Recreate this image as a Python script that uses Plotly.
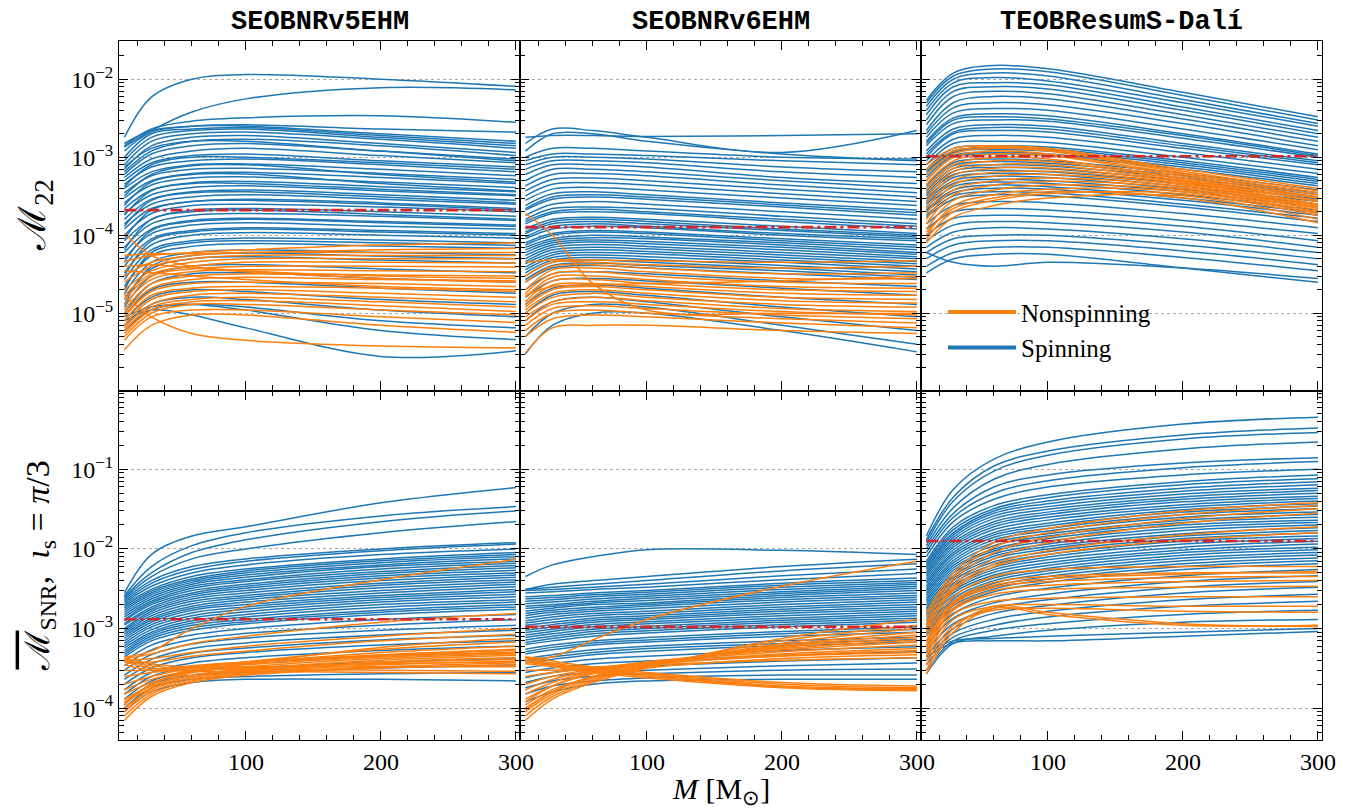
import plotly.graph_objects as go
from plotly.subplots import make_subplots

# Total mass grid (solar masses) at which each mismatch curve is sampled
MASS = [10, 30, 60, 100, 200, 300]

MODELS = ["SEOBNRv5EHM", "SEOBNRv6EHM", "TEOBResumS-Dalí"]

# ---- (2,2)-mode mismatch, spinning configurations ----
V5_M22_SPIN = [
    [1.8e-3, 5.9e-3, 1.0e-2, 1.15e-2, 1.0e-2, 8.1e-3],
    [1.35e-3, 2.2e-3, 3.8e-3, 5.6e-3, 7.8e-3, 7.3e-3],
    [1.4e-3, 2.3e-3, 2.9e-3, 3.2e-3, 3.4e-3, 2.8e-3],
    [1.5e-3, 2.2e-3, 2.5e-3, 2.6e-3, 2.3e-3, 2.1e-3],
    [1.2e-3, 2.1e-3, 2.5e-3, 2.5e-3, 2.0e-3, 1.6e-3],
    [1.0e-3, 2.0e-3, 2.3e-3, 2.4e-3, 1.9e-3, 1.5e-3],
    [9e-4, 1.8e-3, 2.2e-3, 2.3e-3, 1.8e-3, 1.4e-3],
    [8e-4, 1.6e-3, 2.0e-3, 2.1e-3, 1.7e-3, 1.3e-3],
    [7e-4, 1.4e-3, 1.8e-3, 1.9e-3, 1.5e-3, 1.15e-3],
    [7.5e-4, 1.3e-3, 1.6e-3, 1.6e-3, 1.2e-3, 9e-4],
    [6.5e-4, 1.2e-3, 1.6e-3, 1.7e-3, 1.4e-3, 1.05e-3],
    [6e-4, 1.1e-3, 1.4e-3, 1.5e-3, 1.2e-3, 9.5e-4],
    [5.5e-4, 9.5e-4, 1.2e-3, 1.3e-3, 1.05e-3, 8.5e-4],
    [5e-4, 8.5e-4, 1.05e-3, 1.1e-3, 9e-4, 7.5e-4],
    [4.2e-4, 8e-4, 1e-3, 1e-3, 8.5e-4, 7e-4],
    [4.5e-4, 7.5e-4, 9e-4, 9.5e-4, 8e-4, 6.5e-4],
    [4e-4, 6.5e-4, 8e-4, 8.2e-4, 7e-4, 5.8e-4],
    [3.2e-4, 6e-4, 7.8e-4, 8e-4, 6e-4, 4.8e-4],
    [3.5e-4, 5.8e-4, 7e-4, 7.2e-4, 6.2e-4, 5.2e-4],
    [3e-4, 5e-4, 6.2e-4, 6.4e-4, 5.5e-4, 4.6e-4],
    [2.4e-4, 4.8e-4, 6e-4, 6.1e-4, 4.6e-4, 3.7e-4],
    [2.6e-4, 4.4e-4, 5.4e-4, 5.6e-4, 4.8e-4, 4.1e-4],
    [2.2e-4, 3.8e-4, 4.7e-4, 4.9e-4, 4.2e-4, 3.6e-4],
    [1.8e-4, 3.7e-4, 4.6e-4, 4.6e-4, 3.9e-4, 3.3e-4],
    [1.9e-4, 3.3e-4, 4.1e-4, 4.3e-4, 3.7e-4, 3.2e-4],
    [1.6e-4, 2.9e-4, 3.6e-4, 3.8e-4, 3.3e-4, 2.8e-4],
    [1.3e-4, 2.8e-4, 3.5e-4, 3.6e-4, 3.1e-4, 2.6e-4],
    [1.4e-4, 2.5e-4, 3.1e-4, 3.3e-4, 2.9e-4, 2.5e-4],
    [1.2e-4, 2.2e-4, 2.7e-4, 2.9e-4, 2.6e-4, 2.2e-4],
    [9e-5, 2.1e-4, 2.7e-4, 2.8e-4, 2.5e-4, 2.1e-4],
    [1e-4, 1.9e-4, 2.4e-4, 2.5e-4, 2.3e-4, 2e-4],
    [8.5e-5, 1.6e-4, 2.1e-4, 2.2e-4, 2e-4, 1.75e-4],
    [6.5e-5, 1.6e-4, 2e-4, 2.1e-4, 1.85e-4, 1.6e-4],
    [7e-5, 1.4e-4, 1.8e-4, 1.9e-4, 1.75e-4, 1.55e-4],
    [6e-5, 1.2e-4, 1.55e-4, 1.65e-4, 1.5e-4, 1.35e-4],
    [4.5e-5, 1.15e-4, 1.5e-4, 1.6e-4, 1.45e-4, 1.3e-4],
    [5e-5, 1.05e-4, 1.35e-4, 1.45e-4, 1.3e-4, 1.2e-4],
    [4e-5, 9e-5, 1.15e-4, 1.25e-4, 1.15e-4, 1.05e-4],
    [3e-5, 8.5e-5, 1.1e-4, 1.2e-4, 1.1e-4, 1e-4],
    [3.3e-5, 7.5e-5, 1e-4, 1.08e-4, 1e-4, 9.2e-5],
    [2.7e-5, 6.5e-5, 8.5e-5, 9.2e-5, 8.7e-5, 8e-5],
    [2e-5, 6e-5, 8e-5, 8.5e-5, 8e-5, 7.4e-5],
    [2.2e-5, 5.5e-5, 7.2e-5, 7.8e-5, 7.3e-5, 6.8e-5],
    [1.8e-5, 4.5e-5, 6e-5, 6.5e-5, 6e-5, 5.6e-5],
    [1.3e-5, 4e-5, 5.5e-5, 5.9e-5, 5.4e-5, 5e-5],
    [1.5e-5, 3.7e-5, 5e-5, 5.3e-5, 4.8e-5, 4.4e-5],
    [1.2e-5, 3e-5, 4e-5, 4.2e-5, 3.7e-5, 3.3e-5],
    [1e-5, 2.4e-5, 3.2e-5, 3.3e-5, 2.8e-5, 2.5e-5],
    [9e-6, 2e-5, 2.5e-5, 2.5e-5, 2.1e-5, 1.8e-5],
    [8e-6, 1.6e-5, 2e-5, 1.9e-5, 1.5e-5, 1.3e-5],
    [7e-6, 1.3e-5, 1.6e-5, 1.5e-5, 1.1e-5, 9e-6],
    [6e-6, 1.1e-5, 1.3e-5, 1.2e-5, 8e-6, 6.5e-6],
    [9e-6, 1.2e-5, 1.3e-5, 1.1e-5, 6e-6, 4.6e-6],
    [8e-6, 1.1e-5, 9.5e-6, 6.5e-6, 2.8e-6, 3.3e-6],
]
V6_M22_SPIN = [
    [1.8e-3, 1.9e-3, 1.9e-3, 1.85e-3, 1.9e-3, 2.0e-3],
    [1.5e-3, 2.3e-3, 2.2e-3, 1.8e-3, 1.15e-3, 2.2e-3],
    [1.2e-3, 2.0e-3, 2.0e-3, 1.6e-3, 1.1e-3, 9e-4],
    [1e-3, 1.3e-3, 1.3e-3, 1.2e-3, 1e-3, 9.5e-4],
    [9e-4, 1.1e-3, 1.1e-3, 1.05e-3, 9e-4, 8e-4],
    [8e-4, 1e-3, 1e-3, 9.5e-4, 7.5e-4, 6.5e-4],
    [7e-4, 9e-4, 9e-4, 8.5e-4, 6.5e-4, 5.5e-4],
    [6e-4, 8e-4, 8e-4, 7.5e-4, 5.5e-4, 4.6e-4],
    [5e-4, 7e-4, 7e-4, 6.5e-4, 5e-4, 4e-4],
    [4.3e-4, 6e-4, 6.2e-4, 5.8e-4, 4.4e-4, 3.5e-4],
    [3.7e-4, 5.2e-4, 5.4e-4, 5e-4, 3.9e-4, 3.1e-4],
    [3.2e-4, 4.5e-4, 4.7e-4, 4.4e-4, 3.4e-4, 2.7e-4],
    [2.8e-4, 3.9e-4, 4.1e-4, 3.8e-4, 3e-4, 2.4e-4],
    [2.4e-4, 3.4e-4, 3.6e-4, 3.3e-4, 2.6e-4, 2.1e-4],
    [2.2e-4, 3.1e-4, 3.3e-4, 3.1e-4, 2.45e-4, 1.95e-4],
    [2.1e-4, 2.9e-4, 3.1e-4, 2.9e-4, 2.3e-4, 1.8e-4],
    [1.8e-4, 2.5e-4, 2.7e-4, 2.5e-4, 2e-4, 1.6e-4],
    [1.6e-4, 2.2e-4, 2.3e-4, 2.2e-4, 1.75e-4, 1.4e-4],
    [1.5e-4, 2e-4, 2.15e-4, 2e-4, 1.6e-4, 1.3e-4],
    [1.4e-4, 1.9e-4, 2e-4, 1.9e-4, 1.5e-4, 1.2e-4],
    [1.2e-4, 1.6e-4, 1.7e-4, 1.6e-4, 1.3e-4, 1.05e-4],
    [1.1e-4, 1.5e-4, 1.6e-4, 1.5e-4, 1.2e-4, 1e-4],
    [1.05e-4, 1.4e-4, 1.5e-4, 1.4e-4, 1.15e-4, 9.5e-5],
    [9.5e-5, 1.3e-4, 1.4e-4, 1.3e-4, 1.05e-4, 9e-5],
    [9e-5, 1.2e-4, 1.3e-4, 1.25e-4, 1e-4, 8.5e-5],
    [8e-5, 1.05e-4, 1.15e-4, 1.1e-4, 9e-5, 7.5e-5],
    [7.5e-5, 1e-4, 1.1e-4, 1.05e-4, 8.5e-5, 7e-5],
    [7e-5, 9e-5, 1e-4, 9.5e-5, 8e-5, 6.5e-5],
    [6.5e-5, 8.5e-5, 9.3e-5, 9e-5, 7.5e-5, 6e-5],
    [6e-5, 8e-5, 8.7e-5, 8.3e-5, 7e-5, 5.7e-5],
    [5.5e-5, 7.5e-5, 8.2e-5, 7.8e-5, 6.5e-5, 5.3e-5],
    [5e-5, 7e-5, 7.6e-5, 7.2e-5, 6e-5, 5e-5],
    [4.6e-5, 6.5e-5, 7e-5, 6.7e-5, 5.6e-5, 4.6e-5],
    [4.3e-5, 6e-5, 6.5e-5, 6.2e-5, 5.2e-5, 4.3e-5],
    [3.9e-5, 5.6e-5, 6e-5, 5.8e-5, 4.8e-5, 4e-5],
    [3.6e-5, 5.2e-5, 5.6e-5, 5.3e-5, 4.5e-5, 3.7e-5],
    [3.3e-5, 4.8e-5, 5.2e-5, 4.9e-5, 4.1e-5, 3.4e-5],
    [3e-5, 4.5e-5, 4.8e-5, 4.5e-5, 3.8e-5, 3.1e-5],
    [2.7e-5, 4.1e-5, 4.4e-5, 4.1e-5, 3.5e-5, 2.9e-5],
    [2.5e-5, 3.8e-5, 4.1e-5, 3.8e-5, 3.2e-5, 2.7e-5],
    [2e-5, 3.2e-5, 3.4e-5, 3.2e-5, 2.6e-5, 2.2e-5],
    [1.6e-5, 2.6e-5, 2.8e-5, 2.6e-5, 2.1e-5, 1.7e-5],
    [1.3e-5, 2.1e-5, 2.3e-5, 2.1e-5, 1.6e-5, 1.3e-5],
    [1e-5, 1.7e-5, 1.9e-5, 1.7e-5, 1.2e-5, 9e-6],
    [8e-6, 1.4e-5, 1.6e-5, 1.4e-5, 9e-6, 6e-6],
    [5e-6, 1e-5, 1.3e-5, 1.2e-5, 7e-6, 4e-6],
    [3e-6, 7e-6, 1e-5, 1e-5, 6e-6, 3.2e-6],
]
TEOB_M22_SPIN = [
    [5.4e-3, 1.2e-2, 1.5e-2, 1.36e-2, 6.8e-3, 3.3e-3],
    [5e-3, 1.1e-2, 1.35e-2, 1.25e-2, 6.2e-3, 3e-3],
    [4.5e-3, 1e-2, 1.2e-2, 1.1e-2, 5.5e-3, 2.7e-3],
    [4e-3, 9e-3, 1.05e-2, 9.5e-3, 5e-3, 2.5e-3],
    [3.5e-3, 8e-3, 9e-3, 8.5e-3, 4.4e-3, 2.2e-3],
    [3e-3, 7e-3, 8e-3, 7.5e-3, 4e-3, 2e-3],
    [2.6e-3, 6e-3, 7e-3, 6.5e-3, 3.5e-3, 1.8e-3],
    [2.2e-3, 5e-3, 6e-3, 5.6e-3, 3.1e-3, 1.6e-3],
    [2e-3, 4.3e-3, 5e-3, 4.7e-3, 2.7e-3, 1.4e-3],
    [1.8e-3, 3.7e-3, 4.2e-3, 4e-3, 2.3e-3, 1.25e-3],
    [1.6e-3, 3.2e-3, 3.6e-3, 3.4e-3, 2e-3, 1.1e-3],
    [1.5e-3, 3e-3, 3.3e-3, 3.1e-3, 1.9e-3, 1.05e-3],
    [1.4e-3, 2.7e-3, 3e-3, 2.9e-3, 1.75e-3, 1e-3],
    [1.2e-3, 2.3e-3, 2.6e-3, 2.5e-3, 1.5e-3, 9e-4],
    [1.1e-3, 2.1e-3, 2.4e-3, 2.3e-3, 1.4e-3, 8.5e-4],
    [1e-3, 2e-3, 2.2e-3, 2.1e-3, 1.3e-3, 8e-4],
    [9e-4, 1.7e-3, 1.9e-3, 1.8e-3, 1.15e-3, 7e-4],
    [8e-4, 1.5e-3, 1.6e-3, 1.55e-3, 1e-3, 6.2e-4],
    [7e-4, 1.3e-3, 1.4e-3, 1.35e-3, 9e-4, 5.5e-4],
    [6.5e-4, 1.2e-3, 1.3e-3, 1.28e-3, 8.5e-4, 5.2e-4],
    [6e-4, 1.15e-3, 1.25e-3, 1.2e-3, 8e-4, 4.9e-4],
    [5.5e-4, 1.05e-3, 1.15e-3, 1.1e-3, 7.5e-4, 4.6e-4],
    [5e-4, 1e-3, 1.1e-3, 1.05e-3, 7e-4, 4.3e-4],
    [4.3e-4, 8.5e-4, 9.5e-4, 9e-4, 6.2e-4, 3.8e-4],
    [4e-4, 7.8e-4, 8.8e-4, 8.4e-4, 5.8e-4, 3.5e-4],
    [3.7e-4, 7.2e-4, 8e-4, 7.7e-4, 5.4e-4, 3.3e-4],
    [3.4e-4, 6.6e-4, 7.4e-4, 7.1e-4, 5e-4, 3.1e-4],
    [3.2e-4, 6e-4, 6.8e-4, 6.5e-4, 4.6e-4, 2.9e-4],
    [2.9e-4, 5.5e-4, 6.2e-4, 6e-4, 4.2e-4, 2.7e-4],
    [2.7e-4, 5e-4, 5.7e-4, 5.5e-4, 3.9e-4, 2.5e-4],
    [2.5e-4, 4.6e-4, 5.2e-4, 5e-4, 3.6e-4, 2.3e-4],
    [2.3e-4, 4.2e-4, 4.8e-4, 4.6e-4, 3.3e-4, 2.1e-4],
    [2.1e-4, 3.8e-4, 4.4e-4, 4.2e-4, 3e-4, 1.95e-4],
    [2e-4, 3.5e-4, 4e-4, 3.9e-4, 2.8e-4, 1.8e-4],
    [1.8e-4, 3.2e-4, 3.6e-4, 3.5e-4, 2.5e-4, 1.65e-4],
    [1.7e-4, 2.9e-4, 3.3e-4, 3.2e-4, 2.3e-4, 1.5e-4],
    [1.4e-4, 2.4e-4, 2.7e-4, 2.6e-4, 1.9e-4, 1.25e-4],
    [1.2e-4, 2e-4, 2.2e-4, 2.1e-4, 1.55e-4, 1.05e-4],
    [1e-4, 1.65e-4, 1.8e-4, 1.75e-4, 1.3e-4, 8.5e-5],
    [8.5e-5, 1.35e-4, 1.5e-4, 1.45e-4, 1.1e-4, 7e-5],
    [7e-5, 1.1e-4, 1.25e-4, 1.2e-4, 9e-5, 6e-5],
    [6e-5, 9e-5, 1e-4, 1e-4, 7.5e-5, 5e-5],
    [5e-5, 7.5e-5, 8.5e-5, 8.5e-5, 6.3e-5, 4.2e-5],
    [4e-5, 6e-5, 7e-5, 7e-5, 5.2e-5, 3.5e-5],
    [3.3e-5, 5e-5, 5.7e-5, 5.7e-5, 3.8e-5, 2.5e-5],
    [6e-5, 4.5e-5, 4e-5, 4.5e-5, 3.8e-5, 2.8e-5],
]

# ---- (2,2)-mode mismatch, nonspinning configurations ----
V5_M22_NOSPIN = [
    [1.06e-4, 5.5e-5, 4e-5, 3.5e-5, 3e-5, 2.8e-5],
    [4.6e-5, 5.5e-5, 6e-5, 6.5e-5, 7.5e-5, 8e-5],
    [5.5e-5, 5.8e-5, 5.8e-5, 6e-5, 6.5e-5, 6.8e-5],
    [3e-5, 4.5e-5, 5.5e-5, 6e-5, 6e-5, 6e-5],
    [2.5e-5, 4e-5, 5e-5, 5.5e-5, 5.5e-5, 5.5e-5],
    [2e-5, 3.5e-5, 4.5e-5, 5e-5, 5e-5, 5e-5],
    [1.7e-5, 3.2e-5, 4e-5, 4.5e-5, 4.5e-5, 4.4e-5],
    [1.5e-5, 3e-5, 3.7e-5, 4e-5, 4e-5, 3.9e-5],
    [1.3e-5, 2.7e-5, 3.4e-5, 3.6e-5, 3.5e-5, 3.4e-5],
    [1.1e-5, 2.4e-5, 3e-5, 3.2e-5, 3.1e-5, 3e-5],
    [1e-5, 2.1e-5, 2.7e-5, 2.9e-5, 2.7e-5, 2.6e-5],
    [9e-6, 1.9e-5, 2.4e-5, 2.5e-5, 2.4e-5, 2.2e-5],
    [8e-6, 1.7e-5, 2.1e-5, 2.2e-5, 2.1e-5, 1.9e-5],
    [7e-6, 1.5e-5, 1.9e-5, 2e-5, 1.8e-5, 1.6e-5],
    [6.5e-6, 1.3e-5, 1.7e-5, 1.8e-5, 1.6e-5, 1.4e-5],
    [6e-6, 1.2e-5, 1.5e-5, 1.6e-5, 1.4e-5, 1.2e-5],
    [5.5e-6, 1.1e-5, 1.4e-5, 1.45e-5, 1.25e-5, 1.05e-5],
    [5e-6, 1e-5, 1.3e-5, 1.3e-5, 1.1e-5, 9.5e-6],
    [4.5e-6, 9e-6, 1.1e-5, 1.1e-5, 9e-6, 7.6e-6],
    [3.4e-6, 7e-6, 9.5e-6, 9.5e-6, 7e-6, 5.7e-6],
    [1.7e-5, 9e-6, 5.5e-6, 4.5e-6, 3.8e-6, 3.6e-6],
    [4e-5, 4.2e-5, 3.8e-5, 3.4e-5, 2.8e-5, 2.5e-5],
    [3.5e-5, 3.3e-5, 3e-5, 2.7e-5, 2.2e-5, 2e-5],
]
V6_M22_NOSPIN = [
    [1.9e-4, 1e-4, 2.4e-5, 1.1e-5, 1e-5, 1e-5],
    [4.5e-5, 4.8e-5, 4.8e-5, 4.7e-5, 4.5e-5, 4.7e-5],
    [3e-5, 4.5e-5, 4.5e-5, 4.2e-5, 3.8e-5, 4e-5],
    [2.5e-5, 4e-5, 4.2e-5, 3.8e-5, 3.2e-5, 3.3e-5],
    [2e-5, 3.6e-5, 3.8e-5, 3.4e-5, 2.8e-5, 2.8e-5],
    [1.8e-5, 3.2e-5, 3.4e-5, 3e-5, 2.5e-5, 2.4e-5],
    [1.6e-5, 2.9e-5, 3e-5, 2.7e-5, 2.2e-5, 2.1e-5],
    [1.4e-5, 2.6e-5, 2.7e-5, 2.4e-5, 2e-5, 1.9e-5],
    [1.3e-5, 2.3e-5, 2.4e-5, 2.2e-5, 1.8e-5, 1.7e-5],
    [1.2e-5, 2e-5, 2.2e-5, 2e-5, 1.6e-5, 1.5e-5],
    [1.1e-5, 1.8e-5, 2e-5, 1.8e-5, 1.45e-5, 1.35e-5],
    [1e-5, 1.6e-5, 1.8e-5, 1.6e-5, 1.3e-5, 1.2e-5],
    [9e-6, 1.4e-5, 1.6e-5, 1.45e-5, 1.15e-5, 1.05e-5],
    [8e-6, 1.3e-5, 1.4e-5, 1.3e-5, 1.05e-5, 9.5e-6],
    [7e-6, 1.15e-5, 1.25e-5, 1.15e-5, 9.5e-6, 8.5e-6],
    [6e-6, 1e-5, 1.1e-5, 1e-5, 8.5e-6, 7.5e-6],
    [5e-6, 8.5e-6, 9.5e-6, 9e-6, 7.5e-6, 6.5e-6],
    [3.1e-6, 6.5e-6, 7e-6, 7e-6, 6e-6, 5.5e-6],
    [1.7e-5, 2.2e-5, 2.3e-5, 2.4e-5, 2.6e-5, 3e-5],
]
TEOB_M22_NOSPIN = [
    [8e-4, 1.3e-3, 1.4e-3, 1.3e-3, 7e-4, 4e-4],
    [7e-4, 1.2e-3, 1.35e-3, 1.25e-3, 6.6e-4, 3.7e-4],
    [6e-4, 1.1e-3, 1.3e-3, 1.2e-3, 6.3e-4, 3.5e-4],
    [5e-4, 1e-3, 1.2e-3, 1.1e-3, 6e-4, 3.3e-4],
    [4.5e-4, 9e-4, 1.1e-3, 1.05e-3, 5.7e-4, 3.1e-4],
    [4e-4, 8e-4, 1e-3, 9.5e-4, 5.4e-4, 3e-4],
    [3.5e-4, 7.2e-4, 9e-4, 8.8e-4, 5.2e-4, 2.8e-4],
    [3e-4, 6.5e-4, 8e-4, 8e-4, 5e-4, 2.7e-4],
    [2.6e-4, 5.8e-4, 7.2e-4, 7.3e-4, 4.8e-4, 2.5e-4],
    [2.2e-4, 5e-4, 6.4e-4, 6.6e-4, 4.6e-4, 2.4e-4],
    [1.9e-4, 4.4e-4, 5.7e-4, 6e-4, 4.4e-4, 2.3e-4],
    [1.6e-4, 3.8e-4, 5e-4, 5.4e-4, 4.2e-4, 2.2e-4],
    [1.4e-4, 3.3e-4, 4.4e-4, 4.9e-4, 4e-4, 2.1e-4],
    [1.2e-4, 2.8e-4, 3.8e-4, 4.4e-4, 3.8e-4, 2e-4],
    [1e-4, 2.4e-4, 3.3e-4, 3.9e-4, 3.6e-4, 1.9e-4],
    [9e-5, 2e-4, 2.8e-4, 3.4e-4, 3.4e-4, 1.8e-4],
    [8e-5, 1.7e-4, 2.4e-4, 3e-4, 3.2e-4, 1.6e-4],
    [1.1e-4, 2.2e-4, 3e-4, 3.6e-4, 3e-4, 1.45e-4],
]

# ---- SNR-weighted mismatch at inclination pi/3, spinning ----
V5_SNR_SPIN = [
    [2.8e-3, 8.5e-3, 1.45e-2, 1.9e-2, 3.8e-2, 5.9e-2],
    [2.6e-3, 6e-3, 1.1e-2, 1.6e-2, 2.6e-2, 3.4e-2],
    [2.5e-3, 5e-3, 9e-3, 1.3e-2, 2.2e-2, 3.0e-2],
    [2.4e-3, 4.5e-3, 7.5e-3, 1.0e-2, 1.6e-2, 2.2e-2],
    [2.3e-3, 4e-3, 6e-3, 7.5e-3, 1.0e-2, 1.2e-2],
    [2.2e-3, 3.7e-3, 5.5e-3, 7e-3, 9.5e-3, 1.15e-2],
    [2.1e-3, 3.4e-3, 5e-3, 6.3e-3, 8.5e-3, 1.0e-2],
    [2e-3, 3.1e-3, 4.5e-3, 5.6e-3, 7.5e-3, 9e-3],
    [1.9e-3, 2.95e-3, 4.2e-3, 5.3e-3, 7.1e-3, 8.5e-3],
    [1.8e-3, 2.8e-3, 4e-3, 5e-3, 6.7e-3, 8e-3],
    [1.7e-3, 2.65e-3, 3.8e-3, 4.7e-3, 6.3e-3, 7.5e-3],
    [1.6e-3, 2.5e-3, 3.6e-3, 4.4e-3, 6e-3, 7e-3],
    [1.5e-3, 2.35e-3, 3.4e-3, 4.1e-3, 5.6e-3, 6.6e-3],
    [1.4e-3, 2.2e-3, 3.2e-3, 3.9e-3, 5.2e-3, 6.2e-3],
    [1.3e-3, 2.1e-3, 3e-3, 3.6e-3, 4.9e-3, 5.8e-3],
    [1.25e-3, 2e-3, 2.8e-3, 3.4e-3, 4.6e-3, 5.4e-3],
    [1.15e-3, 1.85e-3, 2.65e-3, 3.2e-3, 4.3e-3, 5e-3],
    [1.1e-3, 1.75e-3, 2.5e-3, 3e-3, 4e-3, 4.7e-3],
    [1e-3, 1.65e-3, 2.35e-3, 2.8e-3, 3.7e-3, 4.4e-3],
    [9.5e-4, 1.55e-3, 2.2e-3, 2.6e-3, 3.5e-3, 4.1e-3],
    [9e-4, 1.45e-3, 2.05e-3, 2.45e-3, 3.25e-3, 3.85e-3],
    [8.5e-4, 1.35e-3, 1.9e-3, 2.3e-3, 3e-3, 3.6e-3],
    [8e-4, 1.28e-3, 1.8e-3, 2.15e-3, 2.8e-3, 3.35e-3],
    [7.5e-4, 1.2e-3, 1.7e-3, 2e-3, 2.6e-3, 3.1e-3],
    [7e-4, 1.12e-3, 1.57e-3, 1.87e-3, 2.45e-3, 2.9e-3],
    [6.5e-4, 1.05e-3, 1.45e-3, 1.75e-3, 2.3e-3, 2.7e-3],
    [6.1e-4, 9.7e-4, 1.35e-3, 1.62e-3, 2.15e-3, 2.5e-3],
    [5.7e-4, 9e-4, 1.25e-3, 1.5e-3, 2e-3, 2.3e-3],
    [5.3e-4, 8.5e-4, 1.17e-3, 1.4e-3, 1.85e-3, 2.15e-3],
    [5e-4, 8e-4, 1.1e-3, 1.3e-3, 1.7e-3, 2e-3],
    [4.7e-4, 7.5e-4, 1.02e-3, 1.22e-3, 1.6e-3, 1.87e-3],
    [4.4e-4, 7e-4, 9.5e-4, 1.15e-3, 1.5e-3, 1.75e-3],
    [3.9e-4, 6.2e-4, 8.3e-4, 1e-3, 1.3e-3, 1.5e-3],
    [3.4e-4, 5.4e-4, 7.3e-4, 8.7e-4, 1.1e-3, 1.3e-3],
    [3e-4, 4.7e-4, 6.4e-4, 7.6e-4, 9.5e-4, 1.1e-3],
    [2.6e-4, 4.1e-4, 5.6e-4, 6.6e-4, 8.3e-4, 9.5e-4],
    [2.3e-4, 3.6e-4, 4.9e-4, 5.7e-4, 7.2e-4, 8.2e-4],
    [2e-4, 3.2e-4, 4.3e-4, 5e-4, 6.2e-4, 7e-4],
    [1.7e-4, 2.8e-4, 3.7e-4, 4.3e-4, 5.3e-4, 6e-4],
    [1.5e-4, 2.5e-4, 3.3e-4, 3.7e-4, 4.5e-4, 5e-4],
    [1.3e-4, 2.2e-4, 2.9e-4, 3.2e-4, 3.8e-4, 4.2e-4],
    [1.1e-4, 2e-4, 2.6e-4, 2.8e-4, 3.2e-4, 3.5e-4],
    [1e-4, 1.8e-4, 2.3e-4, 2.5e-4, 2.7e-4, 2.8e-4],
    [9e-5, 1.6e-4, 2.1e-4, 2.3e-4, 2.3e-4, 2.2e-4],
]
V6_SNR_SPIN = [
    [4.5e-3, 6.3e-3, 8e-3, 9.8e-3, 9.6e-3, 8.5e-3],
    [3.1e-3, 3.6e-3, 4e-3, 4.5e-3, 6e-3, 7.4e-3],
    [3.1e-3, 3.3e-3, 3.6e-3, 4e-3, 5.3e-3, 6.5e-3],
    [3e-3, 3.1e-3, 3.3e-3, 3.6e-3, 4.6e-3, 5.6e-3],
    [2.8e-3, 2.9e-3, 3.1e-3, 3.3e-3, 4.1e-3, 4.9e-3],
    [2.5e-3, 2.6e-3, 2.8e-3, 3e-3, 3.7e-3, 4.3e-3],
    [2.35e-3, 2.45e-3, 2.65e-3, 2.85e-3, 3.5e-3, 4e-3],
    [2.2e-3, 2.3e-3, 2.5e-3, 2.7e-3, 3.3e-3, 3.8e-3],
    [2.05e-3, 2.15e-3, 2.35e-3, 2.55e-3, 3.1e-3, 3.6e-3],
    [1.9e-3, 2e-3, 2.2e-3, 2.4e-3, 2.9e-3, 3.4e-3],
    [1.78e-3, 1.9e-3, 2.1e-3, 2.25e-3, 2.75e-3, 3.2e-3],
    [1.65e-3, 1.8e-3, 2e-3, 2.1e-3, 2.6e-3, 3e-3],
    [1.55e-3, 1.7e-3, 1.85e-3, 2e-3, 2.45e-3, 2.8e-3],
    [1.45e-3, 1.6e-3, 1.75e-3, 1.9e-3, 2.3e-3, 2.6e-3],
    [1.35e-3, 1.5e-3, 1.65e-3, 1.78e-3, 2.15e-3, 2.45e-3],
    [1.25e-3, 1.4e-3, 1.55e-3, 1.65e-3, 2e-3, 2.3e-3],
    [1.17e-3, 1.3e-3, 1.45e-3, 1.55e-3, 1.87e-3, 2.15e-3],
    [1.1e-3, 1.2e-3, 1.35e-3, 1.45e-3, 1.75e-3, 2e-3],
    [1.02e-3, 1.12e-3, 1.27e-3, 1.37e-3, 1.65e-3, 1.87e-3],
    [9.5e-4, 1.05e-3, 1.2e-3, 1.3e-3, 1.55e-3, 1.75e-3],
    [8.9e-4, 9.8e-4, 1.12e-3, 1.22e-3, 1.45e-3, 1.65e-3],
    [8.3e-4, 9.2e-4, 1.05e-3, 1.15e-3, 1.35e-3, 1.55e-3],
    [7.7e-4, 8.6e-4, 9.8e-4, 1.07e-3, 1.27e-3, 1.45e-3],
    [7.2e-4, 8e-4, 9.2e-4, 1e-3, 1.2e-3, 1.35e-3],
    [6.7e-4, 7.5e-4, 8.6e-4, 9.4e-4, 1.12e-3, 1.27e-3],
    [6.3e-4, 7e-4, 8e-4, 8.8e-4, 1.05e-3, 1.2e-3],
    [5.5e-4, 6.2e-4, 7e-4, 7.7e-4, 9.2e-4, 1.05e-3],
    [5.1e-4, 5.8e-4, 6.6e-4, 7.2e-4, 8.6e-4, 9.7e-4],
    [4.8e-4, 5.4e-4, 6.2e-4, 6.8e-4, 8e-4, 9e-4],
    [4.2e-4, 4.7e-4, 5.4e-4, 6e-4, 7e-4, 7.8e-4],
    [3.9e-4, 4.4e-4, 5e-4, 5.6e-4, 6.5e-4, 7.3e-4],
    [3.7e-4, 4.1e-4, 4.7e-4, 5.2e-4, 6.1e-4, 6.8e-4],
    [3.2e-4, 3.6e-4, 4.1e-4, 4.5e-4, 5.3e-4, 5.9e-4],
    [2.8e-4, 3.2e-4, 3.6e-4, 3.9e-4, 4.6e-4, 5.1e-4],
    [2.4e-4, 2.8e-4, 3.2e-4, 3.4e-4, 3.9e-4, 4.3e-4],
    [2.1e-4, 2.5e-4, 2.8e-4, 3e-4, 3.4e-4, 3.7e-4],
    [1.8e-4, 2.2e-4, 2.5e-4, 2.7e-4, 3e-4, 3.1e-4],
    [1.5e-4, 1.9e-4, 2.2e-4, 2.4e-4, 2.6e-4, 2.6e-4],
    [1.2e-4, 1.6e-4, 2e-4, 2.2e-4, 2.3e-4, 2.3e-4],
]
TEOB_SNR_SPIN = [
    [1.45e-2, 5.6e-2, 1.34e-1, 2.2e-1, 3.7e-1, 4.5e-1],
    [1.3e-2, 4.5e-2, 1.1e-1, 1.7e-1, 2.7e-1, 3.3e-1],
    [1.2e-2, 4e-2, 9.5e-2, 1.5e-1, 2.4e-1, 2.9e-1],
    [1.1e-2, 3.3e-2, 7.5e-2, 1.15e-1, 1.8e-1, 2.2e-1],
    [1e-2, 2.8e-2, 6e-2, 8.5e-2, 1.2e-1, 1.4e-1],
    [9e-3, 2.5e-2, 5e-2, 7.2e-2, 1.05e-1, 1.25e-1],
    [8e-3, 2.2e-2, 4.2e-2, 6e-2, 8.5e-2, 1.0e-1],
    [7e-3, 1.9e-2, 3.5e-2, 4.8e-2, 7e-2, 8.5e-2],
    [6.6e-3, 1.75e-2, 3.2e-2, 4.4e-2, 6.4e-2, 7.6e-2],
    [6.2e-3, 1.6e-2, 3e-2, 4e-2, 5.8e-2, 7e-2],
    [5.8e-3, 1.5e-2, 2.8e-2, 3.7e-2, 5.3e-2, 6.4e-2],
    [5.5e-3, 1.4e-2, 2.6e-2, 3.4e-2, 4.9e-2, 5.8e-2],
    [5.1e-3, 1.3e-2, 2.4e-2, 3.15e-2, 4.5e-2, 5.4e-2],
    [4.8e-3, 1.2e-2, 2.2e-2, 2.9e-2, 4.2e-2, 5e-2],
    [4.5e-3, 1.12e-2, 2.05e-2, 2.7e-2, 3.9e-2, 4.6e-2],
    [4.2e-3, 1.05e-2, 1.9e-2, 2.5e-2, 3.6e-2, 4.3e-2],
    [3.9e-3, 9.7e-3, 1.75e-2, 2.3e-2, 3.35e-2, 4e-2],
    [3.7e-3, 9e-3, 1.6e-2, 2.1e-2, 3.1e-2, 3.7e-2],
    [3.4e-3, 8.4e-3, 1.5e-2, 1.95e-2, 2.9e-2, 3.45e-2],
    [3.2e-3, 7.8e-3, 1.4e-2, 1.8e-2, 2.7e-2, 3.2e-2],
    [3e-3, 7.2e-3, 1.3e-2, 1.68e-2, 2.5e-2, 2.9e-2],
    [2.8e-3, 6.7e-3, 1.2e-2, 1.55e-2, 2.3e-2, 2.7e-2],
    [2.6e-3, 6.2e-3, 1.1e-2, 1.45e-2, 2.15e-2, 2.5e-2],
    [2.4e-3, 5.8e-3, 1e-2, 1.35e-2, 2e-2, 2.3e-2],
    [2.25e-3, 5.4e-3, 9.4e-3, 1.25e-2, 1.85e-2, 2.15e-2],
    [2.1e-3, 5e-3, 8.7e-3, 1.15e-2, 1.7e-2, 2e-2],
    [1.95e-3, 4.6e-3, 8.1e-3, 1.07e-2, 1.55e-2, 1.85e-2],
    [1.8e-3, 4.3e-3, 7.5e-3, 1e-2, 1.45e-2, 1.7e-2],
    [1.7e-3, 4e-3, 6.9e-3, 9.2e-3, 1.35e-2, 1.58e-2],
    [1.6e-3, 3.7e-3, 6.4e-3, 8.5e-3, 1.25e-2, 1.45e-2],
    [1.5e-3, 3.45e-3, 5.9e-3, 7.9e-3, 1.15e-2, 1.35e-2],
    [1.4e-3, 3.2e-3, 5.5e-3, 7.3e-3, 1.05e-2, 1.25e-2],
    [1.3e-3, 3e-3, 5.1e-3, 6.7e-3, 9.7e-3, 1.15e-2],
    [1.2e-3, 2.8e-3, 4.7e-3, 6.2e-3, 9e-3, 1.05e-2],
    [1.12e-3, 2.6e-3, 4.3e-3, 5.7e-3, 8.3e-3, 9.8e-3],
    [1.05e-3, 2.4e-3, 4e-3, 5.3e-3, 7.7e-3, 9e-3],
    [9.7e-4, 2.25e-3, 3.7e-3, 4.9e-3, 7.1e-3, 8.4e-3],
    [9e-4, 2.1e-3, 3.4e-3, 4.5e-3, 6.5e-3, 7.7e-3],
    [8.5e-4, 1.95e-3, 3.15e-3, 4.15e-3, 6e-3, 7.1e-3],
    [8e-4, 1.8e-3, 2.9e-3, 3.8e-3, 5.5e-3, 6.5e-3],
    [7e-4, 1.55e-3, 2.5e-3, 3.2e-3, 4.6e-3, 5.5e-3],
    [6e-4, 1.35e-3, 2.1e-3, 2.7e-3, 3.9e-3, 4.6e-3],
    [5.2e-4, 1.15e-3, 1.8e-3, 2.3e-3, 3.3e-3, 3.9e-3],
    [4.5e-4, 1e-3, 1.55e-3, 1.95e-3, 2.8e-3, 3.3e-3],
    [4e-4, 8.8e-4, 1.3e-3, 1.65e-3, 2.3e-3, 2.7e-3],
    [3.5e-4, 7.8e-4, 1.1e-3, 1.4e-3, 1.9e-3, 2.2e-3],
    [3e-4, 7e-4, 9.5e-4, 1.15e-3, 1.5e-3, 1.7e-3],
    [2.7e-4, 6.5e-4, 8e-4, 9.5e-4, 1.2e-3, 1.3e-3],
    [4.4e-4, 6.6e-4, 7e-4, 7e-4, 8e-4, 9.2e-4],
    [5e-4, 7e-4, 7.5e-4, 8e-4, 9e-4, 1e-3],
]

# ---- SNR-weighted mismatch at inclination pi/3, nonspinning ----
V5_SNR_NOSPIN = [
    [4.4e-4, 5.2e-4, 1e-3, 1.9e-3, 4.1e-3, 7.4e-3],
    [4.2e-4, 4.8e-4, 6.5e-4, 8e-4, 1.2e-3, 1.55e-3],
    [4e-4, 4.2e-4, 5e-4, 6e-4, 8e-4, 1.0e-3],
    [3.8e-4, 3.8e-4, 4.5e-4, 5.2e-4, 7e-4, 8.5e-4],
    [4.2e-4, 3.6e-4, 3.3e-4, 3.3e-4, 3.3e-4, 3.3e-4],
    [4e-4, 3.4e-4, 3.1e-4, 3.1e-4, 3e-4, 2.9e-4],
    [3.8e-4, 3.2e-4, 2.9e-4, 2.9e-4, 2.8e-4, 2.7e-4],
    [3.5e-4, 3e-4, 3e-4, 3.2e-4, 3.6e-4, 3.8e-4],
    [3e-4, 3e-4, 3.4e-4, 3.8e-4, 4.5e-4, 5e-4],
    [2.5e-4, 2.8e-4, 3.3e-4, 3.8e-4, 4.7e-4, 5.5e-4],
    [2e-4, 2.5e-4, 3.2e-4, 3.7e-4, 4.6e-4, 5.3e-4],
    [1.7e-4, 2.3e-4, 3e-4, 3.5e-4, 4.4e-4, 5e-4],
    [1.5e-4, 2.1e-4, 2.8e-4, 3.3e-4, 4.2e-4, 4.8e-4],
    [1.3e-4, 1.9e-4, 2.6e-4, 3.1e-4, 4e-4, 4.6e-4],
    [1.15e-4, 1.8e-4, 2.5e-4, 3e-4, 3.8e-4, 4.3e-4],
    [1e-4, 1.7e-4, 2.4e-4, 2.9e-4, 3.7e-4, 4.1e-4],
    [9e-5, 1.6e-4, 2.3e-4, 2.8e-4, 3.5e-4, 3.9e-4],
    [8e-5, 1.5e-4, 2.2e-4, 2.7e-4, 3.3e-4, 3.7e-4],
    [7e-5, 1.4e-4, 2.1e-4, 2.6e-4, 3.2e-4, 3.5e-4],
    [1.2e-4, 2e-4, 2.9e-4, 3.6e-4, 5e-4, 6e-4],
    [1.1e-4, 2e-4, 3e-4, 3.8e-4, 5.5e-4, 6.8e-4],
    [9e-5, 1.8e-4, 2.8e-4, 3.6e-4, 5.8e-4, 7.5e-4],
]
V6_SNR_NOSPIN = [
    [4.4e-4, 4.4e-4, 7.2e-4, 1.3e-3, 3.4e-3, 7e-3],
    [4.4e-4, 3.9e-4, 3.3e-4, 2.8e-4, 2.1e-4, 1.9e-4],
    [4.2e-4, 3.7e-4, 3.1e-4, 2.7e-4, 2e-4, 1.8e-4],
    [4e-4, 3.5e-4, 3e-4, 2.6e-4, 1.9e-4, 1.75e-4],
    [3.8e-4, 3.4e-4, 2.9e-4, 2.5e-4, 1.85e-4, 1.7e-4],
    [3.6e-4, 3.3e-4, 2.8e-4, 2.4e-4, 1.8e-4, 1.65e-4],
    [4.3e-4, 3.5e-4, 3.3e-4, 3.5e-4, 4e-4, 4.3e-4],
    [3e-4, 3e-4, 3.2e-4, 3.6e-4, 4.5e-4, 5e-4],
    [2.5e-4, 2.8e-4, 3.2e-4, 3.7e-4, 4.8e-4, 5.6e-4],
    [2e-4, 2.5e-4, 3.1e-4, 3.8e-4, 5.1e-4, 6.2e-4],
    [1.7e-4, 2.3e-4, 3e-4, 3.8e-4, 5.4e-4, 6.8e-4],
    [1.5e-4, 2.1e-4, 2.9e-4, 3.7e-4, 5.6e-4, 7.2e-4],
    [1.3e-4, 1.9e-4, 2.7e-4, 3.6e-4, 5.8e-4, 7.7e-4],
    [1.1e-4, 1.7e-4, 2.5e-4, 3.5e-4, 6e-4, 8.3e-4],
    [1e-4, 1.6e-4, 2.4e-4, 3.4e-4, 6.2e-4, 9e-4],
    [9e-5, 1.5e-4, 2.3e-4, 3.3e-4, 6.5e-4, 1e-3],
    [8e-5, 1.4e-4, 2.2e-4, 3.3e-4, 7e-4, 1.1e-3],
    [7e-5, 1.3e-4, 2.1e-4, 3.2e-4, 7.5e-4, 1.3e-3],
    [1.2e-4, 1.9e-4, 2.8e-4, 3.5e-4, 4.6e-4, 5.3e-4],
    [9.5e-5, 1.6e-4, 2.5e-4, 3.2e-4, 4.2e-4, 4.7e-4],
]
TEOB_SNR_NOSPIN = [
    [1.6e-3, 5e-3, 1.2e-2, 1.8e-2, 3e-2, 3.8e-2],
    [1.4e-3, 4.5e-3, 1.05e-2, 1.6e-2, 2.7e-2, 3.5e-2],
    [1.2e-3, 4e-3, 9e-3, 1.4e-2, 2.4e-2, 3.2e-2],
    [1e-3, 3.5e-3, 7.5e-3, 1.2e-2, 2.1e-2, 2.8e-2],
    [9e-4, 3e-3, 6e-3, 8.5e-3, 1.3e-2, 1.6e-2],
    [8e-4, 2.5e-3, 4.5e-3, 5.5e-3, 6e-3, 6e-3],
    [7e-4, 2.2e-3, 3.8e-3, 4.5e-3, 5e-3, 5e-3],
    [6e-4, 2e-3, 3.3e-3, 3.9e-3, 4.4e-3, 4.5e-3],
    [5e-4, 1.7e-3, 2.7e-3, 3.1e-3, 3.3e-3, 3.4e-3],
    [4.5e-4, 1.5e-3, 2.2e-3, 2.4e-3, 2.5e-3, 2.5e-3],
    [4e-4, 1.3e-3, 1.9e-3, 2e-3, 1.9e-3, 1.9e-3],
    [3.5e-4, 1.1e-3, 1.7e-3, 1.8e-3, 1.65e-3, 1.6e-3],
    [3e-4, 1e-3, 1.9e-3, 1.6e-3, 1.15e-3, 1.06e-3],
    [2.7e-4, 9e-4, 1.8e-3, 1.5e-3, 1.1e-3, 1.1e-3],
    [1.1e-3, 3.2e-3, 6.5e-3, 9.5e-3, 1.5e-2, 1.9e-2],
    [6.5e-4, 2.1e-3, 3.5e-3, 4.2e-3, 4.8e-3, 5.2e-3],
    [5.5e-4, 1.8e-3, 3e-3, 3.5e-3, 3.9e-3, 4e-3],
]

# Median mismatch of each set (dash-dotted reference level)
MEDIAN_M22 = [2.1e-4, 1.27e-4, 1.03e-3]
MEDIAN_SNR = [1.31e-3, 1.05e-3, 1.26e-2]

BLUE = "#1f77b4"
ORANGE = "#ff7f0e"
RED = "#d62728"
SERIF = "Liberation Serif"
CURVE_WIDTH = 1.5

PANELS = [
    [(V5_M22_SPIN, V5_M22_NOSPIN), (V6_M22_SPIN, V6_M22_NOSPIN), (TEOB_M22_SPIN, TEOB_M22_NOSPIN)],
    [(V5_SNR_SPIN, V5_SNR_NOSPIN), (V6_SNR_SPIN, V6_SNR_NOSPIN), (TEOB_SNR_SPIN, TEOB_SNR_NOSPIN)],
]
MEDIANS = [MEDIAN_M22, MEDIAN_SNR]

fig = make_subplots(rows=2, cols=3, shared_xaxes=True, shared_yaxes=True,
                    horizontal_spacing=0, vertical_spacing=0)

for r, row in enumerate(PANELS, start=1):
    for c, (spin, nospin) in enumerate(row, start=1):
        for curve in spin:
            fig.add_trace(go.Scatter(x=MASS, y=curve, mode="lines",
                                     line=dict(color=BLUE, width=CURVE_WIDTH, shape="spline"),
                                     showlegend=False, hoverinfo="skip"), row=r, col=c)
        for curve in nospin:
            fig.add_trace(go.Scatter(x=MASS, y=curve, mode="lines",
                                     line=dict(color=ORANGE, width=CURVE_WIDTH, shape="spline"),
                                     showlegend=False, hoverinfo="skip"), row=r, col=c)
        med = MEDIANS[r - 1][c - 1]
        fig.add_trace(go.Scatter(x=[MASS[0], MASS[-1]], y=[med, med], mode="lines",
                                 line=dict(color=RED, width=2.6, dash="12px,4px,3px,4px"),
                                 showlegend=False, hoverinfo="skip"), row=r, col=c)

# Legend entries
fig.add_trace(go.Scatter(x=[None], y=[None], mode="lines", name="Nonspinning",
                         line=dict(color=ORANGE, width=4)), row=1, col=3)
fig.add_trace(go.Scatter(x=[None], y=[None], mode="lines", name="Spinning",
                         line=dict(color=BLUE, width=4)), row=1, col=3)

axis_common = dict(
    showline=True, linecolor="black", linewidth=1.1, mirror="allticks",
    ticks="inside", tickcolor="black", tickwidth=1.2, ticklen=9,
    zeroline=False,
    tickfont=dict(family=SERIF, size=24, color="black"),
)

fig.update_xaxes(range=[6, 303], tickvals=[100, 200, 300], showgrid=False,
                 minor=dict(ticks="inside", ticklen=5, tickwidth=1, tickcolor="black",
                            dtick=20, tick0=0, showgrid=False),
                 **axis_common)

# decade ticks labelled as powers of ten, minor ticks at 2..9 within each decade
DECADES = list(range(-7, 1))
MAJOR_VALS = [10.0 ** e for e in DECADES]
MAJOR_TEXT = [f"10<sup>{'−' if e < 0 else ''}{abs(e)}</sup>" for e in DECADES]
LOG_MINOR = [m * 10.0 ** e for e in DECADES for m in range(2, 10)]

y_common = dict(type="log", tickvals=MAJOR_VALS, ticktext=MAJOR_TEXT,
                showgrid=True, gridcolor="#a8a8a8", griddash="dot", gridwidth=1,
                minor=dict(ticks="inside", ticklen=5, tickwidth=1, tickcolor="black",
                           tickvals=LOG_MINOR, showgrid=False),
                **axis_common)
fig.update_yaxes(range=[-5.99, -1.51], row=1, **y_common)
fig.update_yaxes(range=[-4.40, -0.01], row=2, **y_common)

annotations = []
for i, name in enumerate(MODELS):
    annotations.append(dict(text=f"<b>{name}</b>", x=(2 * i + 1) / 6, y=1.027, xref="paper", yref="paper",
                            xanchor="center", yanchor="middle", showarrow=False,
                            font=dict(family="Liberation Mono", size=27, color="black")))
annotations.append(dict(text="ℳ<sub>22</sub>", x=-0.07, y=0.751, xref="paper", yref="paper",
                        textangle=-90, xanchor="center", yanchor="middle", showarrow=False,
                        font=dict(family=SERIF, size=38, color="black")))
annotations.append(dict(text="<span style=\"text-decoration:overline\">ℳ</span><sub>SNR</sub>,  <i>ι</i><sub>s</sub> = <i>π</i>/3",
                        x=-0.066, y=0.249, xref="paper", yref="paper",
                        textangle=-90, xanchor="center", yanchor="middle", showarrow=False,
                        font=dict(family=SERIF, size=34, color="black")))
annotations.append(dict(text="<i>M</i> [M<sub>⊙</sub>]", x=0.5, y=-0.073, xref="paper", yref="paper",
                        xanchor="center", yanchor="middle", showarrow=False,
                        font=dict(family=SERIF, size=30, color="black")))

fig.update_layout(
    width=1349, height=809,
    margin=dict(l=119, r=27, t=41, b=69),
    plot_bgcolor="white", paper_bgcolor="white",
    font=dict(family=SERIF, color="black"),
    annotations=annotations,
    legend=dict(x=0.685, y=0.645, xanchor="left", yanchor="top",
                bgcolor="rgba(0,0,0,0)", font=dict(family=SERIF, size=25, color="black"),
                tracegroupgap=0, itemwidth=68),
)

fig.write_html("out.html")
